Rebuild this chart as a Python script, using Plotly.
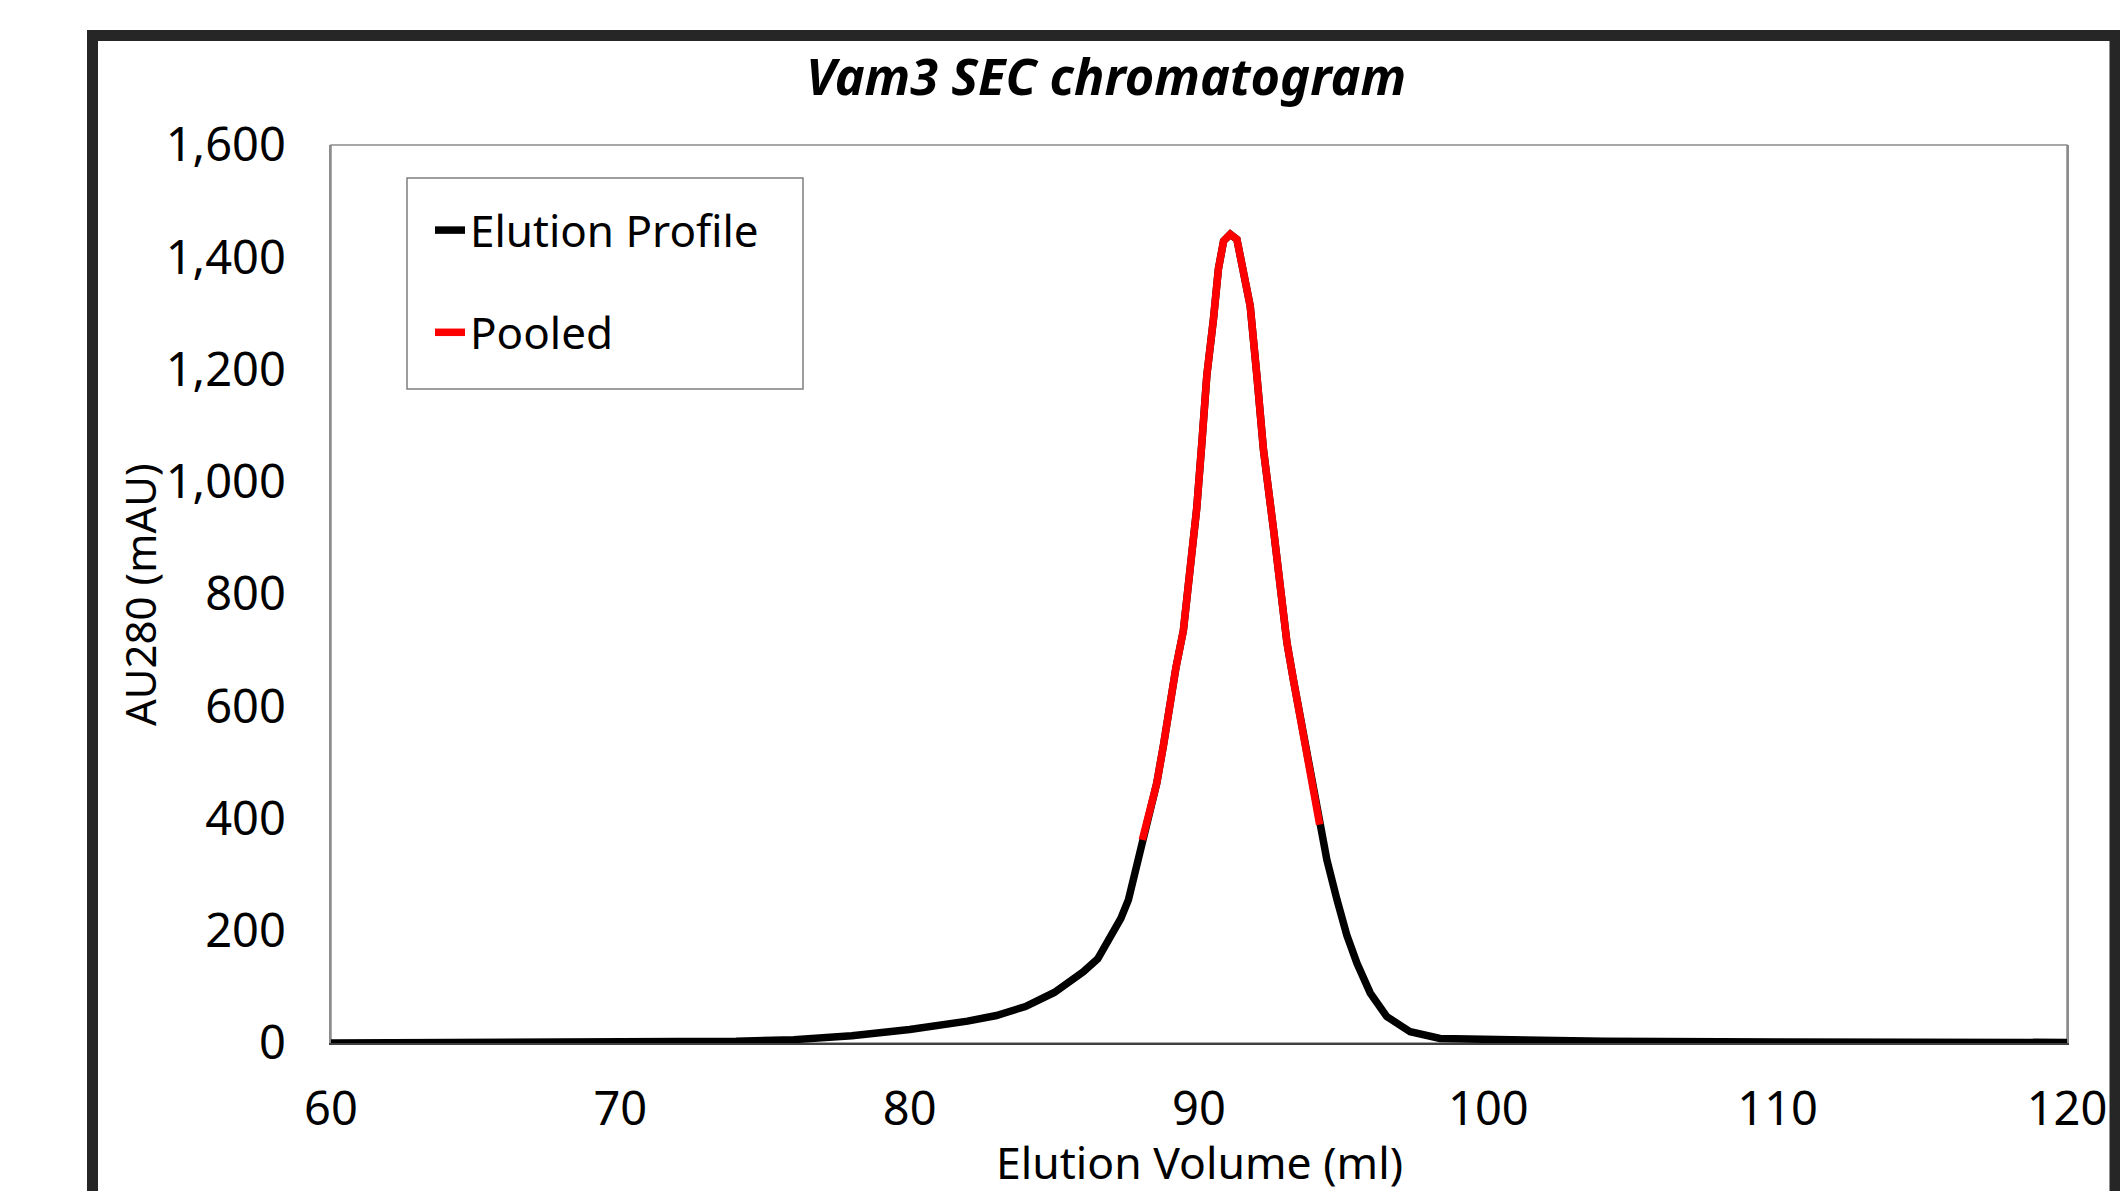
import plotly.graph_objects as go

# ---- data ----
left_ml = [60, 65, 70, 72, 74, 76, 78, 80, 81, 82, 83, 84, 85, 85.5, 86, 86.5, 87, 87.3, 87.56, 87.85]
left_mau = [0, 0.5, 1, 2, 3, 6, 13, 24, 31, 39, 49, 65, 90, 108, 127, 150, 192, 222, 255, 314]

pooled_ml = [88.04, 88.25, 88.54, 88.77, 88.98, 89.2, 89.46, 89.7, 89.92, 90.1, 90.27, 90.5,
             90.67, 90.85, 91.08, 91.31, 91.54, 91.77, 92.0, 92.23, 92.58, 92.81, 93.04,
             93.27, 93.5, 93.73, 93.96, 94.17]
pooled_mau = [362, 404, 463, 530, 605, 668, 735, 840, 952, 1070, 1189, 1290,
              1379, 1429, 1441, 1432, 1379, 1313, 1189, 1056, 913, 817, 713,
              645, 580, 523, 451, 389]

right_ml = [94.42, 94.77, 95.11, 95.46, 95.92, 96.49, 97.3, 98.33, 100.4, 104, 110, 120]
right_mau = [326, 255, 192, 142, 89, 47, 20, 8, 5, 3, 2, 1]

profile_ml = left_ml + pooled_ml + right_ml
profile_mau = left_mau + pooled_mau + right_mau

x_ticks = [60, 70, 80, 90, 100, 110, 120]
y_ticks = [0, 200, 400, 600, 800, 1000, 1200, 1400, 1600]

x_title = "Elution Volume (ml)"
y_title = "AU280 (mAU)"
chart_title = "Vam3 SEC chromatogram"

FONT = "Noto Sans"

fig = go.Figure()
fig.add_trace(go.Scatter(x=profile_ml, y=profile_mau, mode="lines", name="Elution Profile",
                         line=dict(color="#000000", width=7.5), legendgroup="a"))
fig.add_trace(go.Scatter(x=pooled_ml, y=pooled_mau, mode="lines", name="Pooled",
                         line=dict(color="#ff0000", width=7.5), legendgroup="b"))

W, H = 2120, 1191
L, R, T, B = 331, 2067, 145, 1043
pw, ph = R - L, B - T


def px(xp):  # page pixel -> paper x
    return (xp - L) / pw


def py(yp):  # page pixel -> paper y
    return (B - yp) / ph


fig.update_layout(
    width=W, height=H,
    margin=dict(l=L, r=W - R, t=T, b=H - B, autoexpand=False),
    paper_bgcolor="white", plot_bgcolor="white",
    font=dict(family=FONT, color="#000000", size=47),
    title=dict(text=f"<b><i>{chart_title}</i></b>", xref="container",
               x=1106 / W, xanchor="center",
               yref="container", y=1 - 77 / H, yanchor="middle",
               font=dict(size=50.5, family=FONT)),
    showlegend=True,
    legend=dict(x=px(430), y=py(195), xanchor="left", yanchor="top",
                borderwidth=0, bgcolor="rgba(0,0,0,0)",
                font=dict(size=44, family=FONT), itemwidth=30, tracegroupgap=42,
                traceorder="grouped"),
    xaxis=dict(range=[60, 120], tickvals=x_ticks, showgrid=False, zeroline=False,
               showline=True, linecolor="#404040", linewidth=2, ticks="",
               automargin=False, ticklabelstandoff=24),
    yaxis=dict(range=[0, 1600], tickvals=y_ticks, tickformat=",", showgrid=False,
               zeroline=False, showline=True, linecolor="#8c8c8c", linewidth=1.5,
               mirror=True, ticks="", automargin=False, ticklabelstandoff=34),
)

# axis titles
fig.add_annotation(text=x_title, xref="paper", yref="paper", x=px(1199), y=py(1161),
                   xanchor="center", yanchor="middle", showarrow=False,
                   font=dict(size=44.5, family=FONT, color="#000000"))
fig.add_annotation(text=y_title, xref="paper", yref="paper", x=px(139), y=py(595),
                   xanchor="center", yanchor="middle", showarrow=False, textangle=-90,
                   font=dict(size=42, family=FONT, color="#000000"))

# plot-area border
fig.add_shape(type="rect", xref="paper", yref="paper", x0=0, x1=1, y0=0, y1=1,
              line=dict(color="#8c8c8c", width=1.5), layer="below")

# legend box
fig.add_shape(type="rect", xref="paper", yref="paper",
              x0=px(407), x1=px(803), y0=py(389), y1=py(178),
              line=dict(color="#7f7f7f", width=1.5), fillcolor="white", layer="below")

# outer dark frame (chart area border)
fig.add_shape(type="rect", xref="paper", yref="paper",
              x0=px(92.5), x1=px(2115), y0=py(1240), y1=py(35.5),
              line=dict(color="#262626", width=11), layer="above")

fig.write_html("out.html", config={"displayModeBar": False},
               post_script="document.body.style.margin='0';document.body.style.overflow='hidden';")
